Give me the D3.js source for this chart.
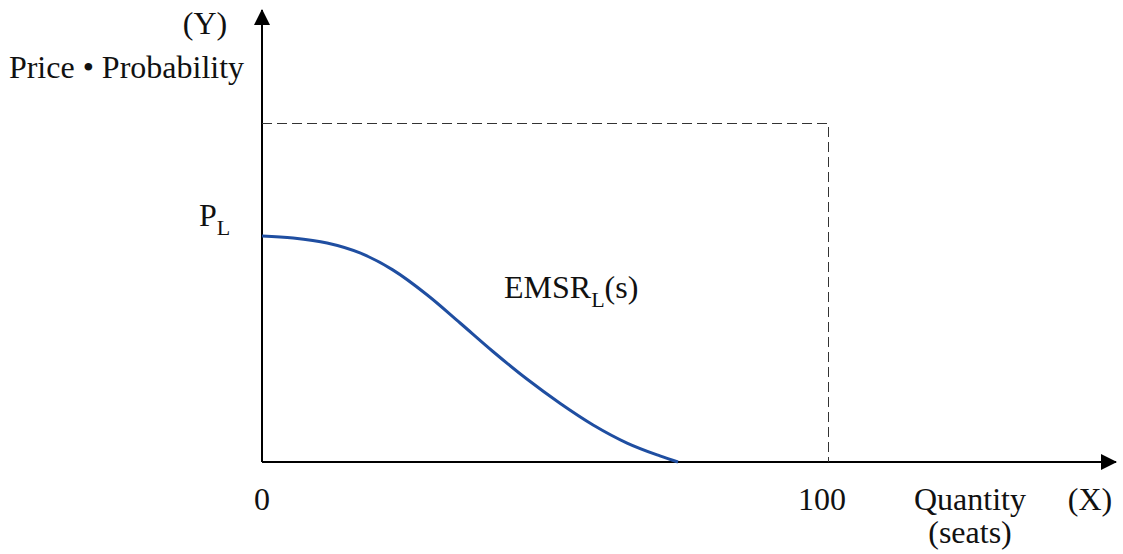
<!DOCTYPE html>
<html>
<head>
<meta charset="utf-8">
<script src="https://cdn.jsdelivr.net/npm/d3@7"></script>
<style>
  body { margin: 0; background: #fff; }
</style>
</head>
<body>
<svg width="1123" height="554"></svg>
<script>
// seats sold (x) and EMSR value relative to P_L (y)
var seats = [0, 5.5, 11.5, 17.3, 23.1, 29.2, 35.0, 40.8, 46.8, 52.7, 58.5, 64.5, 70.3, 73.5];
var emsr  = [1.0, 0.991, 0.969, 0.925, 0.850, 0.739, 0.615, 0.489, 0.367, 0.259, 0.164, 0.084, 0.027, 0];
var capacity = 100;
var topPrice = 1.5;   // dashed upper box level
var xTicks = [0, 100];

var svg = d3.select("svg"),
    width = +svg.attr("width"),
    height = +svg.attr("height");

var serif = "'Liberation Serif', Tinos, 'Times New Roman', Times, serif";

var x = d3.scaleLinear().domain([0, 100]).range([262, 828]);
var y = d3.scaleLinear().domain([0, 1]).range([462, 236]);

var defs = svg.append("defs");
defs.append("marker")
    .attr("id", "arrow")
    .attr("viewBox", "0 0 16 16")
    .attr("refX", 15).attr("refY", 8)
    .attr("markerWidth", 16).attr("markerHeight", 16)
    .attr("markerUnits", "userSpaceOnUse")
    .attr("orient", "auto")
  .append("path")
    .attr("d", "M0,0 L16,8 L0,16 Z")
    .style("fill", "#000");

// axes
svg.append("line")
   .attr("x1", x(0)).attr("y1", y(0))
   .attr("x2", x(0)).attr("y2", 10)
   .attr("marker-end", "url(#arrow)")
   .style("stroke", "#000").style("stroke-width", 2);

svg.append("line")
   .attr("x1", x(0)).attr("y1", y(0))
   .attr("x2", 1116).attr("y2", y(0))
   .attr("marker-end", "url(#arrow)")
   .style("stroke", "#000").style("stroke-width", 2);

// dashed box
svg.append("path")
   .attr("d", "M" + x(0) + "," + (y(topPrice) + 0.5) + "H" + (x(capacity) + 0.5) + "V" + y(0))
   .style("fill", "none")
   .style("stroke", "#333")
   .style("stroke-width", 1)
   .style("shape-rendering", "crispEdges")
   .style("stroke-dasharray", "10,5");

// EMSR curve
var pts = seats.map(function(s, i) { return [s, emsr[i]]; });
var line = d3.line()
   .curve(d3.curveCatmullRom.alpha(0.5))
   .x(function(d) { return x(d[0]); })
   .y(function(d) { return y(d[1]); });

svg.append("path")
   .datum(pts)
   .attr("d", line)
   .style("fill", "none")
   .style("stroke", "#1f4ea1")
   .style("stroke-width", 3);

// labels
var fs = "32px";

function label(tx, ty, str, anchor) {
  return svg.append("text")
     .attr("x", tx).attr("y", ty)
     .attr("text-anchor", anchor || "middle")
     .style("font-family", serif)
     .style("font-size", fs)
     .style("fill", "#111")
     .text(str);
}

label(205, 34, "(Y)");
label(126.5, 78, "Price • Probability");

var pl = label(199, 226, null, "start");
pl.append("tspan").text("P");
pl.append("tspan").attr("dy", 9).style("font-size", "22px").text("L");

var em = label(504, 298, null, "start");
em.append("tspan").text("EMSR");
em.append("tspan").attr("dy", 9).style("font-size", "22px").text("L");
em.append("tspan").attr("dy", -9).text("(s)");

svg.selectAll(".tick-label")
   .data(xTicks)
   .enter().append("text")
   .attr("class", "tick-label")
   .attr("x", function(d) { return x(d) - (d === 0 ? 0 : 6); })
   .attr("y", 510)
   .attr("text-anchor", "middle")
   .style("font-family", serif)
   .style("font-size", fs)
   .style("fill", "#111")
   .text(function(d) { return d; });

label(970, 510, "Quantity");
label(970, 543, "(seats)");
label(1090, 510, "(X)");
</script>
</body>
</html>
